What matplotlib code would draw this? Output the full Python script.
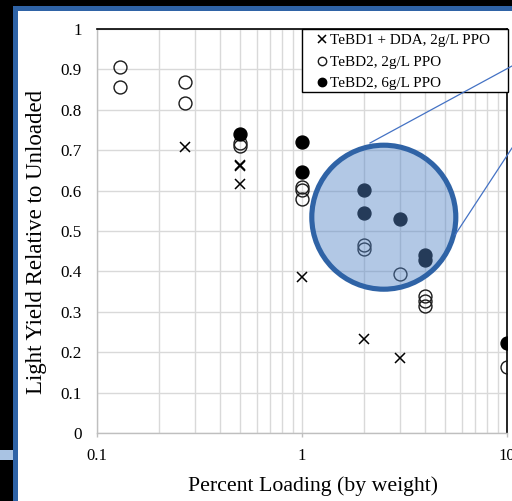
import matplotlib
matplotlib.use("Agg")
import matplotlib.pyplot as plt
from matplotlib.patches import Rectangle, Circle
from matplotlib.lines import Line2D
from matplotlib.ticker import FixedLocator, FixedFormatter, NullFormatter, LogLocator

# Light yield measurements vs. loading
labels = ["TeBD1 + DDA, 2g/L PPO", "TeBD2, 2g/L PPO", "TeBD2, 6g/L PPO"]

dda_x = [0.27, 0.5, 0.5, 0.5, 1, 2, 3]
dda_y = [0.707, 0.660, 0.664, 0.616, 0.385, 0.232, 0.185]

tebd2_2g_x = [0.13, 0.13, 0.27, 0.27, 0.5, 0.5, 1, 1, 1, 2, 2, 3, 4, 4, 4, 10]
tebd2_2g_y = [0.907, 0.856, 0.868, 0.816, 0.719, 0.710, 0.610, 0.601, 0.580,
              0.465, 0.455, 0.393, 0.338, 0.326, 0.314, 0.163]

tebd2_6g_x = [0.5, 1, 1, 2, 2, 3, 4, 4, 10]
tebd2_6g_y = [0.740, 0.720, 0.647, 0.601, 0.545, 0.530, 0.441, 0.427, 0.222]

x_ticks = [0.1, 1, 10]
x_tick_labels = ["0.1", "1", "10"]
y_ticks = [0, 0.1, 0.2, 0.3, 0.4, 0.5, 0.6, 0.7, 0.8, 0.9, 1]
y_tick_labels = ["0", "0.1", "0.2", "0.3", "0.4", "0.5", "0.6", "0.7", "0.8", "0.9", "1"]

W, H = 512, 501
fig = plt.figure(figsize=(W / 100, H / 100), dpi=100, facecolor="white")
serif = "Liberation Serif"


def fx(x):
    return x / W


def fy(y):
    return 1 - y / H


def frect(x0, y0, x1, y1, color, z=0):
    fig.add_artist(Rectangle((fx(x0), fy(y1)), (x1 - x0) / W, (y1 - y0) / H,
                             transform=fig.transFigure, facecolor=color,
                             edgecolor="none", zorder=z))


# slide frame
frect(0, 0, 13, H, "black")
frect(0, 0, W, 6, "black")
frect(13, 6, 18, H, "#2f63a6")
frect(13, 6, W, 11, "#2f63a6")
frect(0, 450, 13, 460, "#a9c3e3")

ax = fig.add_axes([fx(97), fy(433), (507 - 97) / W, (433 - 29) / H])
ax.set_facecolor("white")
ax.set_xscale("log")
ax.set_xlim(0.1, 10)
ax.set_ylim(0, 1)

grid_c = "#d9d9d9"
ax.xaxis.set_major_locator(FixedLocator(x_ticks))
ax.xaxis.set_major_formatter(FixedFormatter(x_tick_labels))
ax.xaxis.set_minor_locator(LogLocator(base=10, subs=range(2, 10)))
ax.xaxis.set_minor_formatter(NullFormatter())
ax.yaxis.set_major_locator(FixedLocator(y_ticks))
ax.yaxis.set_major_formatter(FixedFormatter(y_tick_labels))
ax.grid(True, which="both", axis="x", color=grid_c, lw=1.0, zorder=0)
ax.grid(True, which="major", axis="y", color=grid_c, lw=1.0, zorder=0)
ax.set_axisbelow(True)

ax.tick_params(axis="x", which="major", length=3, width=1, color="#bfbfbf",
               pad=8, labelsize=12)
ax.tick_params(axis="x", which="minor", length=0)
ax.tick_params(axis="y", length=0, pad=11, labelsize=12.3)
for lab in ax.get_xticklabels() + ax.get_yticklabels():
    lab.set_fontfamily(serif)

for s in ["left", "bottom"]:
    ax.spines[s].set_color("#bfbfbf")
    ax.spines[s].set_linewidth(1)
for s in ["top", "right"]:
    ax.spines[s].set_color("black")
    ax.spines[s].set_linewidth(1.2)

ax.set_xlabel("Percent Loading (by weight)", fontsize=15.7, family=serif)
ax.set_ylabel("Light Yield Relative to Unloaded", fontsize=16.5, family=serif)
ax.xaxis.set_label_coords(0.527, -0.108)
ax.yaxis.set_label_coords(-0.122, 0.474)

ms = 9.3
ax.plot(dda_x, dda_y, ls="none", marker="x", ms=ms * 0.85, mew=1.1, color="black",
        label=labels[0], zorder=3)
ax.plot(tebd2_2g_x, tebd2_2g_y, ls="none", marker="o", ms=ms, mew=1.0,
        markerfacecolor="none", markeredgecolor="#1a1a1a", label=labels[1], zorder=3)
ax.plot(tebd2_6g_x, tebd2_6g_y, ls="none", marker="o", ms=ms, mew=1.0,
        color="black", label=labels[2], zorder=4)

leg = ax.legend(loc="upper left", bbox_to_anchor=(fx(314), fy(30)),
                bbox_transform=fig.transFigure, frameon=False, borderpad=0.25,
                borderaxespad=0, handlelength=0.6, handletextpad=0.2,
                labelspacing=0.52, markerscale=0.65,
                prop={"family": serif, "size": 10.9})

# legend box
fig.add_artist(Rectangle((fx(302), fy(92)), (508 - 302) / W, (92 - 29) / H,
                         transform=fig.transFigure, facecolor="white",
                         edgecolor="black", lw=1.0, zorder=2.5))
leg.remove()
fig.add_artist(leg)
leg.set_zorder(7)

# magnifier callout
inch = fig.dpi_scale_trans
cx, cy, r = 383.8 / 100, (H - 217.2) / 100, 0.72
fig.add_artist(Circle((cx, cy), r, transform=inch,
                      facecolor=(0.33, 0.52, 0.78, 0.45),
                      edgecolor="#2f63a6", lw=3.7, zorder=8))
for (x0, y0), (x1, y1) in [((370, 143), (512, 66)), ((455, 235), (512, 148))]:
    fig.add_artist(Line2D([x0 / 100, x1 / 100], [(H - y0) / 100, (H - y1) / 100],
                          transform=inch, color="#4472c4", lw=0.9, zorder=8))

fig.savefig("out.png", dpi=100, facecolor="white")
